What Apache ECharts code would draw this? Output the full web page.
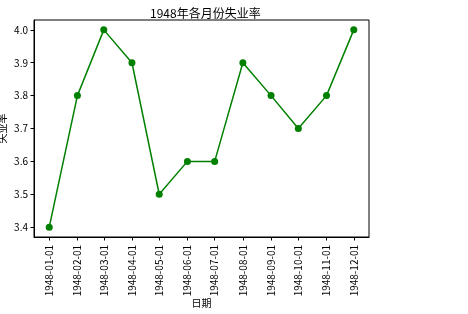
<!DOCTYPE html>
<html><head><meta charset="utf-8">
<script src="https://cdn.jsdelivr.net/npm/echarts@6/dist/echarts.min.js"></script>
<style>html,body{margin:0;padding:0;background:#fff}#c{width:468px;height:314px}</style>
</head><body><div id="c"></div>
<script>
const dates = ['1948-01-01','1948-02-01','1948-03-01','1948-04-01','1948-05-01','1948-06-01','1948-07-01','1948-08-01','1948-09-01','1948-10-01','1948-11-01','1948-12-01'];
const rates = [3.4, 3.8, 4.0, 3.9, 3.5, 3.6, 3.6, 3.9, 3.8, 3.7, 3.8, 4.0];
const yTicks = [3.4, 3.5, 3.6, 3.7, 3.8, 3.9, 4.0];
const titleText = '1948年各月份失业率';
const xName = '日期';
const yName = '失业率';

const ts = dates.map(d => Date.parse(d + 'T00:00:00Z'));
const span = ts[ts.length-1] - ts[0];
const yMin = Math.min(...rates), yMax = Math.max(...rates);
const ySpan = yMax - yMin;
const font = '"Noto Sans CJK SC", sans-serif';
const pad = n => String(n).padStart(2,'0');

const chart = echarts.init(document.getElementById('c'), null, {renderer:'canvas'});
chart.setOption({
  animation: false,
  title: {text: titleText, left: 145, top: 2,
    textStyle: {fontFamily: font, fontSize: 12, fontWeight: 'normal', color: '#000'}},
  grid: {left: 34, right: 99, top: 20, bottom: 77, show: true, borderColor: '#000', borderWidth: 1,
    containLabel: false, outerBoundsMode: 'none'},
  xAxis: {
    type: 'value',
    min: ts[0] - span*0.05, max: ts[ts.length-1] + span*0.05,
    name: xName, nameLocation: 'middle', nameGap: 61, nameMoveOverlap: false,
    nameTextStyle: {fontFamily: font, fontSize: 10, color: '#000'},
    axisLine: {show: true, lineStyle: {color: '#000', width: 1}},
    axisTick: {show: true, length: 3.5, customValues: ts, lineStyle: {color: '#000'}},
    splitLine: {show: false},
    axisLabel: {customValues: ts, rotate: 90, fontFamily: font, fontSize: 10, color: '#000', margin: 8,
      formatter: v => { const d = new Date(v); return d.getUTCFullYear()+'-'+pad(d.getUTCMonth()+1)+'-'+pad(d.getUTCDate()); }}
  },
  yAxis: {
    type: 'value',
    min: yMin - ySpan*0.05, max: yMax + ySpan*0.05,
    name: yName, nameLocation: 'middle', nameGap: 27, nameRotate: 90, nameMoveOverlap: false,
    nameTextStyle: {fontFamily: font, fontSize: 10, color: '#000'},
    axisLine: {show: true, lineStyle: {color: '#000', width: 1}},
    axisTick: {show: true, length: 3.5, customValues: yTicks, lineStyle: {color: '#000'}},
    splitLine: {show: false},
    axisLabel: {customValues: yTicks, fontFamily: font, fontSize: 10, color: '#000', margin: 6,
      formatter: v => v.toFixed(1)}
  },
  series: [{
    type: 'line',
    data: ts.map((t,i) => [t, rates[i]]),
    symbol: 'circle', symbolSize: 7,
    lineStyle: {color: '#008000', width: 1.5},
    itemStyle: {color: '#008000'}
  }]
});
</script></body></html>
